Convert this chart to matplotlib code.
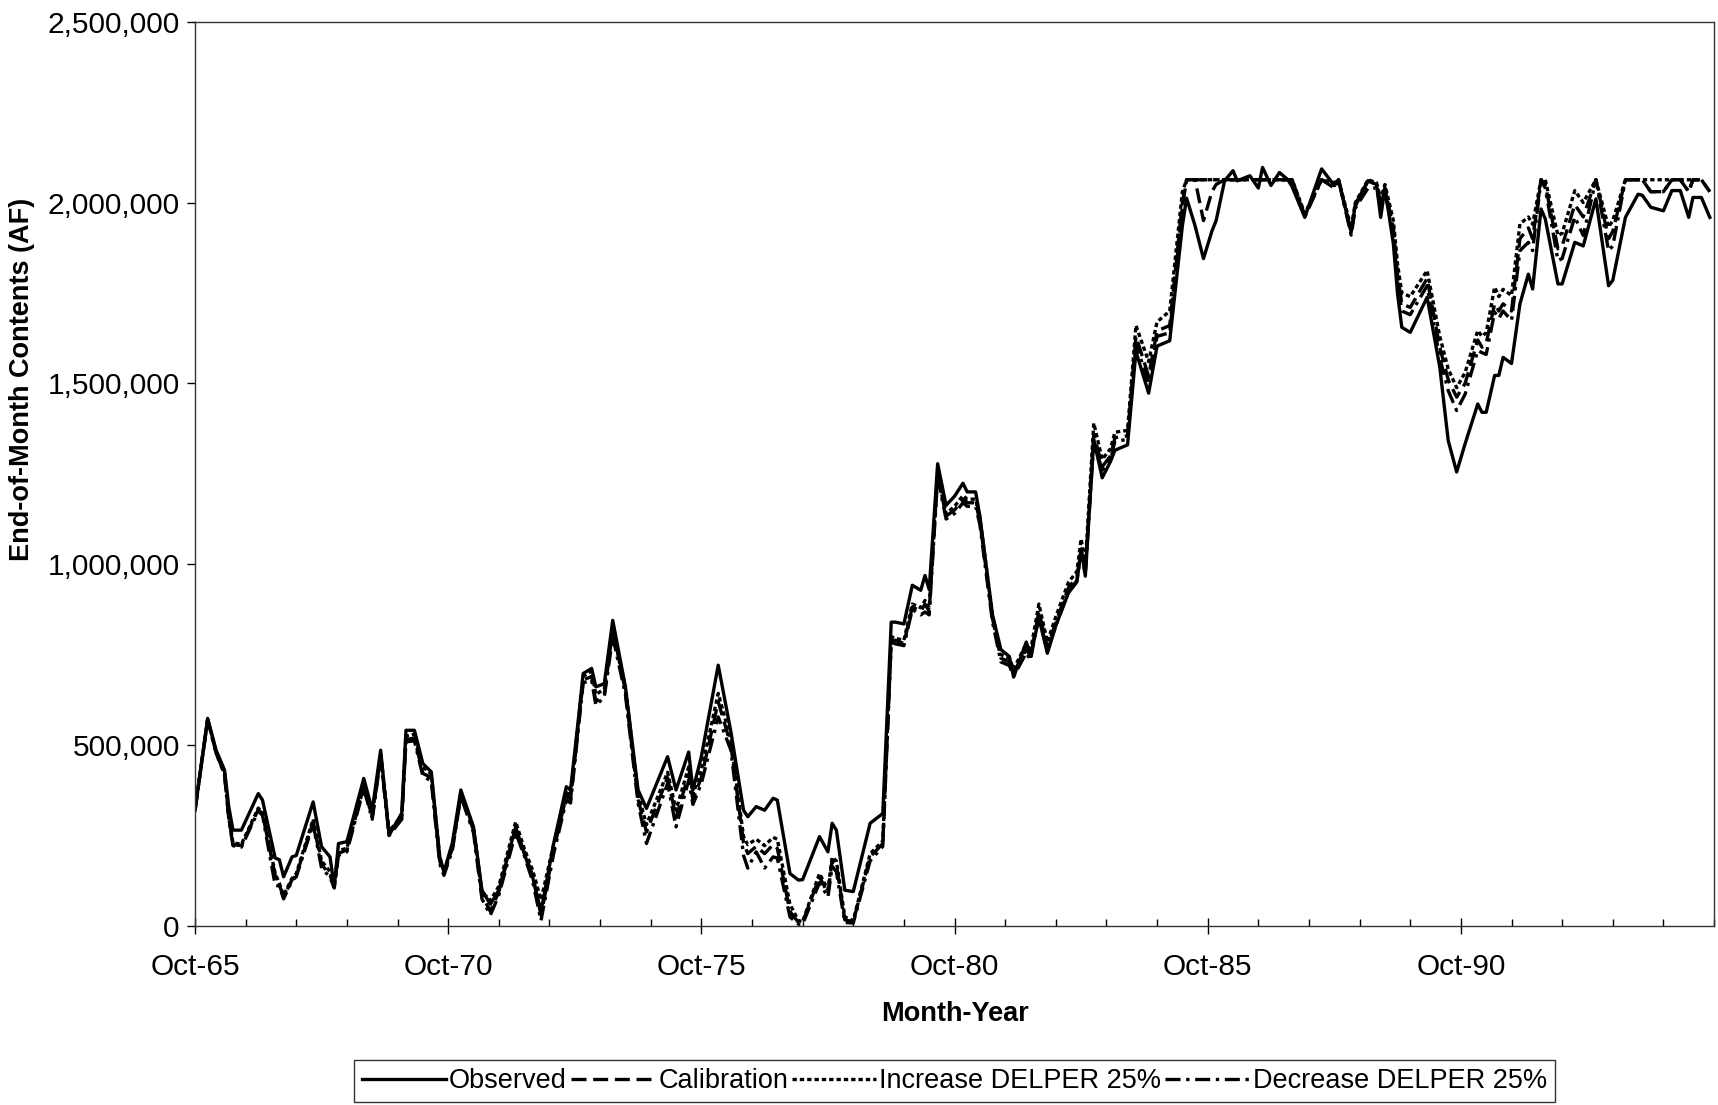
import numpy as np
import matplotlib
matplotlib.use("Agg")
import matplotlib.pyplot as plt
from matplotlib.ticker import FuncFormatter, MultipleLocator

plt.rcParams['font.family'] = ['Liberation Sans', 'DejaVu Sans']

# months after Oct-1965, end-of-month contents in thousand AF
months = [0, 3, 5, 7, 8, 9, 11, 15, 16, 19,
          20, 21, 23, 24, 28, 30, 32, 33, 34, 36,
          40, 42, 44, 46, 49, 50, 52, 54, 56, 58,
          59, 61, 63, 66, 68, 70, 72, 76, 78, 80,
          82, 85, 88, 89, 91, 92, 94, 95, 97, 99,
          102, 105, 107, 112, 114, 117, 118, 120, 124, 127,
          130, 131, 133, 135, 137, 138, 141, 143, 144, 148,
          150, 151, 152, 154, 156, 160, 163, 165, 166, 168,
          170, 172, 173, 174, 176, 178, 180, 182, 183, 185,
          186, 189, 191, 193, 194, 197, 198, 200, 202, 204,
          207, 209, 210, 211, 213, 215, 217, 218, 221, 223,
          226, 228, 231, 234, 235, 237, 239, 241, 242, 244,
          246, 247, 250, 252, 253, 255, 257, 259, 260, 263,
          267, 270, 271, 274, 275, 278, 280, 281, 282, 284,
          285, 286, 288, 292, 295, 297, 299, 301, 304, 305,
          306, 308, 309, 310, 312, 314, 316, 317, 319, 320,
          323, 324, 327, 329, 332, 335, 336, 339, 342, 343,
          345, 348, 350, 352, 354, 355, 357, 359]

observed = [320, 574, 486, 431, 330, 265, 265, 366, 348, 188,
            183, 136, 191, 195, 343, 219, 191, 108, 228, 233,
            408, 320, 486, 251, 312, 541, 541, 449, 426, 191,
            150, 230, 376, 274, 99, 60, 99, 274, 201, 136,
            40, 228, 385, 376, 587, 698, 712, 661, 670, 845,
            661, 376, 325, 468, 376, 481, 376, 468, 721, 537,
            320, 302, 330, 320, 353, 348, 145, 127, 128, 247,
            205, 284, 265, 99, 95, 284, 311, 840, 840, 835,
            942, 928, 969, 930, 1278, 1163, 1188, 1224, 1200, 1200,
            1133, 860, 764, 745, 688, 785, 745, 851, 754, 830,
            921, 951, 1042, 967, 1345, 1239, 1285, 1315, 1330, 1588,
            1473, 1603, 1618, 1936, 2012, 1936, 1845, 1921, 1950, 2060,
            2088, 2060, 2074, 2040, 2097, 2047, 2083, 2063, 2044, 1959,
            2093, 2047, 2063, 1918, 1996, 2060, 2050, 1959, 2040, 1886,
            1747, 1655, 1641, 1738, 1545, 1342, 1255, 1333, 1443, 1420,
            1420, 1522, 1522, 1572, 1555, 1720, 1802, 1761, 1982, 1955,
            1775, 1775, 1890, 1880, 2010, 1770, 1785, 1959, 2023, 2020,
            1987, 1977, 2033, 2033, 1959, 2014, 2014, 1959]

calibration = [320, 570, 480, 420, 300, 225, 222, 322, 310, 140,
               113, 80, 128, 140, 288, 170, 141, 108, 201, 210,
               386, 300, 470, 255, 300, 515, 520, 422, 410, 180,
               145, 215, 362, 265, 85, 40, 95, 265, 205, 140,
               30, 210, 360, 350, 570, 680, 690, 620, 640, 820,
               650, 350, 260, 410, 300, 420, 350, 410, 620, 500,
               230, 200, 220, 200, 225, 215, 40, 10, 10, 136,
               90, 182, 170, 17, 12, 191, 228, 790, 790, 781,
               882, 870, 890, 870, 1250, 1133, 1150, 1179, 1170, 1170,
               1120, 850, 740, 730, 700, 765, 745, 870, 770, 840,
               935, 965, 1040, 985, 1360, 1270, 1300, 1350, 1355, 1630,
               1520, 1645, 1660, 2000, 2063, 2063, 1950, 2030, 2050, 2063,
               2063, 2063, 2063, 2063, 2063, 2063, 2063, 2063, 2063, 1965,
               2063, 2047, 2063, 1918, 1990, 2060, 2050, 2000, 2040, 1930,
               1800, 1720, 1710, 1790, 1600, 1510, 1462, 1500, 1620, 1600,
               1610, 1720, 1700, 1720, 1700, 1900, 1930, 1900, 2063, 2050,
               1872, 1880, 1994, 1960, 2063, 1900, 1920, 2063, 2063, 2063,
               2030, 2030, 2063, 2063, 2030, 2063, 2063, 2030]

increase = [320, 570, 482, 425, 305, 230, 226, 326, 314, 145,
            118, 85, 132, 145, 295, 180, 150, 110, 208, 215,
            392, 305, 478, 262, 305, 525, 530, 440, 420, 190,
            152, 220, 368, 272, 95, 70, 110, 288, 215, 155,
            72, 225, 370, 360, 580, 690, 705, 640, 655, 830,
            660, 365, 280, 425, 320, 440, 365, 430, 643, 515,
            247, 225, 240, 222, 245, 240, 60, 15, 12, 145,
            100, 190, 180, 25, 15, 200, 235, 800, 795, 790,
            890, 880, 900, 880, 1260, 1140, 1160, 1190, 1180, 1180,
            1130, 860, 750, 740, 710, 780, 760, 890, 785, 855,
            950, 980, 1070, 1000, 1390, 1290, 1320, 1365, 1370, 1660,
            1560, 1670, 1700, 2030, 2063, 2063, 2063, 2063, 2063, 2063,
            2063, 2063, 2063, 2063, 2063, 2063, 2063, 2063, 2063, 1970,
            2063, 2055, 2063, 1930, 2000, 2063, 2055, 2010, 2050, 1950,
            1830, 1750, 1740, 1812, 1630, 1540, 1488, 1530, 1646, 1630,
            1640, 1766, 1740, 1760, 1743, 1941, 1960, 1940, 2063, 2063,
            1909, 1915, 2033, 2000, 2063, 1932, 1950, 2063, 2063, 2063,
            2063, 2063, 2063, 2063, 2063, 2063, 2063, 2030]

decrease = [320, 570, 478, 418, 298, 222, 218, 318, 306, 113,
            110, 75, 125, 136, 282, 160, 135, 105, 195, 205,
            380, 295, 465, 250, 295, 509, 512, 415, 400, 172,
            140, 210, 358, 258, 75, 30, 85, 258, 195, 125,
            15, 200, 348, 340, 560, 672, 680, 610, 633, 800,
            640, 340, 228, 394, 274, 403, 336, 394, 578, 486,
            195, 160, 205, 160, 191, 188, 25, 5, 5, 120,
            80, 165, 150, 10, 8, 180, 220, 785, 780, 775,
            875, 860, 868, 860, 1240, 1125, 1140, 1170, 1160, 1160,
            1110, 840, 730, 720, 690, 755, 735, 860, 760, 830,
            925, 955, 1030, 975, 1340, 1260, 1290, 1340, 1345, 1610,
            1500, 1630, 1640, 1990, 2063, 2063, 2063, 2063, 2063, 2063,
            2063, 2063, 2063, 2063, 2063, 2063, 2063, 2063, 2063, 1960,
            2063, 2040, 2063, 1910, 1985, 2040, 2040, 1990, 2030, 1910,
            1780, 1700, 1690, 1770, 1570, 1480, 1425, 1470, 1591, 1585,
            1580, 1697, 1680, 1700, 1674, 1867, 1890, 1867, 2063, 2040,
            1840, 1845, 1960, 1909, 2063, 1867, 1880, 2063, 2063, 2063,
            2030, 2030, 2063, 2063, 2030, 2063, 2063, 2030]

tick_labels = ["Oct-65", "Oct-70", "Oct-75", "Oct-80", "Oct-85", "Oct-90"]

x = np.array(months)

fig = plt.figure(figsize=(17.18, 11.05), dpi=100)
ax = fig.add_axes([0.1135, 0.162, 0.8842, 0.8184])

lw = 2.4
ax.plot(x, np.array(calibration) * 1000, color='black', lw=lw,
        dashes=(4.5, 2), label='Calibration')
ax.plot(x, np.array(increase) * 1000, color='black', lw=lw,
        dashes=(1.3, 0.9), label='Increase DELPER 25%')
ax.plot(x, np.array(decrease) * 1000, color='black', lw=lw,
        dashes=(4.5, 1.7, 1, 1.7), label='Decrease DELPER 25%')
ax.plot(x, np.array(observed) * 1000, color='black', lw=lw,
        linestyle='-', label='Observed')

ax.set_xlim(0, 360)
ax.set_ylim(0, 2500000)
ax.set_xticks(np.arange(0, 360, 60))
ax.set_xticklabels(tick_labels)
ax.xaxis.set_minor_locator(MultipleLocator(12))
ax.yaxis.set_major_locator(MultipleLocator(500000))
ax.yaxis.set_major_formatter(FuncFormatter(lambda v, p: f"{v:,.0f}"))

ax.tick_params(axis='x', which='major', direction='inout', length=11,
               width=1, labelsize=21.5, pad=14)
ax.tick_params(axis='x', which='minor', direction='in', length=5, width=1)
ax.tick_params(axis='y', which='major', direction='out', length=6,
               width=1, labelsize=21.5, pad=5)

for s in ax.spines.values():
    s.set_linewidth(1.0)
    s.set_color('#333333')

ax.set_xlabel("Month-Year", fontsize=19.5, fontweight='bold')
ax.set_ylabel("End-of-Month Contents (AF)", fontsize=19.5, fontweight='bold')
ax.xaxis.set_label_coords(0.5, -0.083)
ax.yaxis.set_label_coords(-0.105, 0.604)

handles, labels = ax.get_legend_handles_labels()
order = [3, 0, 1, 2]
leg = fig.legend([handles[i] for i in order], [labels[i] for i in order],
                 loc='center', bbox_to_anchor=(0.5555, 0.0215), ncol=4,
                 fontsize=19.5, frameon=True, fancybox=False,
                 handlelength=3.1, handletextpad=0.12, columnspacing=0.15,
                 borderpad=0.3, borderaxespad=0)
leg.get_frame().set_edgecolor('black')
leg.get_frame().set_linewidth(1.0)

fig.savefig("out.png", dpi=100)
